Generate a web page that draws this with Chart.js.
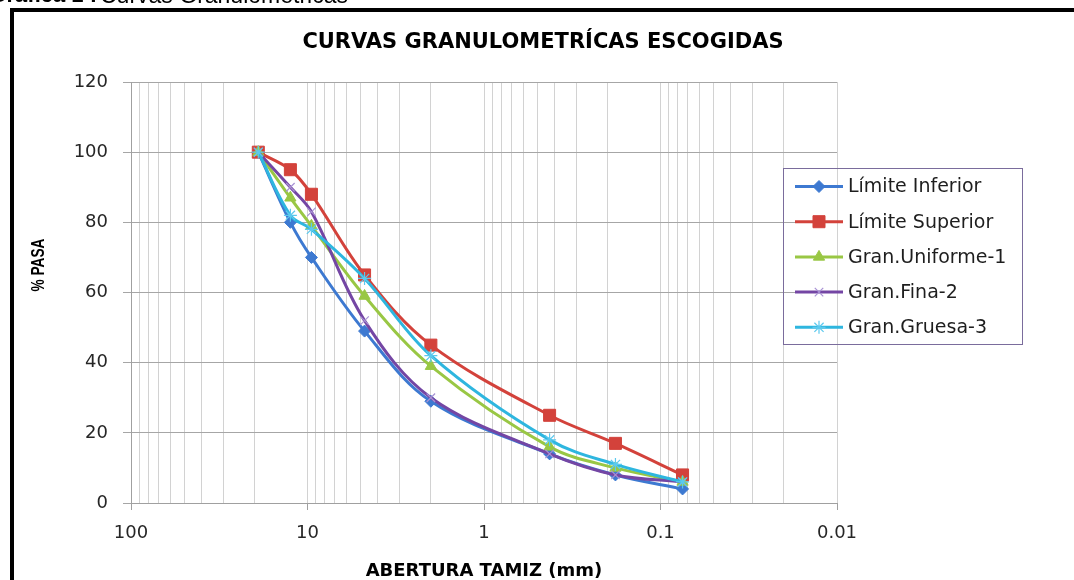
<!DOCTYPE html>
<html>
<head>
<meta charset="utf-8">
<script src="https://cdn.jsdelivr.net/npm/chart.js"></script>
<style>
  body { margin: 0; background: #fff; overflow: hidden; }
  #wrap { position: relative; width: 1074px; height: 580px; }
  #myChart { position: absolute; left: 0; top: 0; }
  .frame { position: absolute; left: 10px; top: 8px; width: 1100px; height: 600px;
           border-left: 4px solid #000; border-top: 4px solid #000; pointer-events: none; }
  .txt { position: absolute; white-space: nowrap; color: #000; }
  #cap1 { left: -200px; width: 297px; text-align: right; top: -17px; font: bold 22px "Liberation Sans"; line-height: 24px; }
  #cap2 { left: 100px; top: -17px; font: 23px "Liberation Sans"; line-height: 24px; }
  #title { left: 0; width: 1086px; text-align: center; top: 28px; font: bold 21px "DejaVu Sans"; line-height: 26px; }
  #xtitle { left: 0; width: 968px; text-align: center; top: 558px; font: bold 18px "DejaVu Sans"; line-height: 24px; }
  #ytitle { left: 38px; top: 265px; font: bold 18px "Liberation Sans"; line-height: 20px;
            transform: translate(-50%, -50%) rotate(-90deg) scaleX(0.76); }
</style>
</head>
<body>
<div id="wrap">
  <canvas id="myChart" width="1074" height="580"></canvas>
  <div class="frame"></div>
  <div class="txt" id="cap1">Gráfica 1 :</div>
  <div class="txt" id="cap2">Curvas Granulometricas</div>
  <div class="txt" id="title">CURVAS GRANULOMETRÍCAS ESCOGIDAS</div>
  <div class="txt" id="xtitle">ABERTURA TAMIZ (mm)</div>
  <div class="txt" id="ytitle">% PASA</div>
</div>
<script>
// abertura del tamiz (mm)
var tamiz = [19, 12.5, 9.5, 4.75, 2.0, 0.425, 0.18, 0.075]

var limiteInferior = [100, 80, 70, 49, 29, 14, 8, 4]
var limiteSuperior = [100, 95, 88, 65, 45, 25, 17, 8]
var granUniforme1  = [100, 87, 79, 59, 39, 16, 10, 6]
var granFina2      = [100, 90, 83, 52, 30, 14, 8, 6]
var granGruesa3    = [100, 82, 78, 64, 42, 18, 11, 6]

var xTickLabels = [100, 10, 1, 0.1, 0.01]
var yTickLabels = [0, 20, 40, 60, 80, 100, 120]

// gridlines 1..9 per decade
var xGrid = []
for (var d = 0.01; d < 50; d *= 10) {
    for (var k = 1; k <= 9; k++) xGrid.push(+(k * d).toPrecision(6))
}
xGrid.push(100)

function serie(label, values, color, style, radius, mColor, mWidth, order) {
    return {
        label: label,
        data: tamiz.map(function (t, i) { return {x: t, y: values[i]} }),
        borderColor: color,
        backgroundColor: color,
        borderWidth: 3,
        tension: 0.35,
        pointStyle: style,
        pointRadius: radius,
        pointHoverRadius: radius,
        pointBackgroundColor: mColor,
        pointBorderColor: mColor,
        pointBorderWidth: mWidth,
        order: order
    }
}

var boxLegend = {
    id: 'boxLegend',
    afterDraw: function (chart) {
        var ctx = chart.ctx
        ctx.save()
        ctx.strokeStyle = '#7a6c9c'
        ctx.lineWidth = 1
        ctx.strokeRect(783.5, 168.5, 239, 176)
        chart.data.datasets.forEach(function (ds, i) {
            var y = 186.5 + i * 35.2
            ctx.strokeStyle = ds.borderColor
            ctx.lineWidth = 3
            ctx.beginPath()
            ctx.moveTo(795, y)
            ctx.lineTo(843, y)
            ctx.stroke()
            ctx.fillStyle = ds.pointBackgroundColor
            ctx.strokeStyle = ds.pointBorderColor
            ctx.lineWidth = ds.pointBorderWidth
            if (Chart.helpers && Chart.helpers.drawPoint) {
                Chart.helpers.drawPoint(ctx, {pointStyle: ds.pointStyle, rotation: 0,
                    radius: ds.pointRadius, borderWidth: ds.pointBorderWidth}, 819, y)
            } else {
                ctx.fillRect(815, y - 4, 8, 8)
            }
            ctx.fillStyle = '#1e1e1e'
            ctx.font = '19px "DejaVu Sans"'
            ctx.textBaseline = 'middle'
            ctx.fillText(ds.label, 848, y + 1)
        })
        ctx.restore()
    }
}

var ctx = document.getElementById('myChart').getContext('2d')
var Chart1 = new Chart(ctx, {
    type: 'line',
    plugins: [boxLegend],
    data: {
        datasets: [
            serie('Límite Inferior', limiteInferior, '#3d79d1', 'rectRot', 6, '#3d79d1', 1, 4),
            serie('Límite Superior', limiteSuperior, '#d3423b', 'rect', 8.5, '#d3423b', 1, 3),
            serie('Gran.Uniforme-1', granUniforme1, '#99c744', 'triangle', 6.5, '#99c744', 1, 2),
            serie('Gran.Fina-2', granFina2, '#7446a4', 'crossRot', 6, '#a892d4', 1.2, 1),
            serie('Gran.Gruesa-3', granGruesa3, '#2eb6df', 'star', 6.5, '#5cc9ee', 1.2, 0)
        ]
    },
    options: {
        responsive: false,
        animation: false,
        devicePixelRatio: 1,
        layout: { padding: { left: 14, right: 237, top: 82, bottom: 0 } },
        plugins: {
            legend: { display: false },
            title: { display: false },
            tooltip: { enabled: false }
        },
        scales: {
            x: {
                type: 'logarithmic',
                reverse: true,
                min: 0.01,
                max: 100,
                afterBuildTicks: function (scale) {
                    scale.ticks = xGrid.map(function (v) { return {value: v} })
                },
                afterFit: function (scale) { scale.height = 77 },
                ticks: {
                    autoSkip: false,
                    maxRotation: 0,
                    padding: 13,
                    color: '#262626',
                    font: { family: 'DejaVu Sans', size: 18 },
                    callback: function (v) { return xTickLabels.indexOf(v) >= 0 ? String(v) : '' }
                },
                grid: {
                    color: '#d2d2d2',
                    lineWidth: 1,
                    tickLength: 7,
                    tickColor: function (c) {
                        return c.tick && xTickLabels.indexOf(c.tick.value) >= 0 ? '#a0a0a0' : 'rgba(0,0,0,0)'
                    }
                },
                border: { display: true, color: '#a0a0a0' }
            },
            y: {
                min: 0,
                max: 120,
                afterBuildTicks: function (scale) {
                    scale.ticks = yTickLabels.map(function (v) { return {value: v} })
                },
                afterFit: function (scale) { scale.width = 117 },
                ticks: {
                    padding: 15,
                    color: '#262626',
                    font: { family: 'DejaVu Sans', size: 18 }
                },
                grid: { color: '#a6a6a6', lineWidth: 1, tickLength: 8, tickColor: '#a6a6a6' },
                border: { display: true, color: '#a0a0a0' }
            }
        }
    }
})
</script>
</body>
</html>
